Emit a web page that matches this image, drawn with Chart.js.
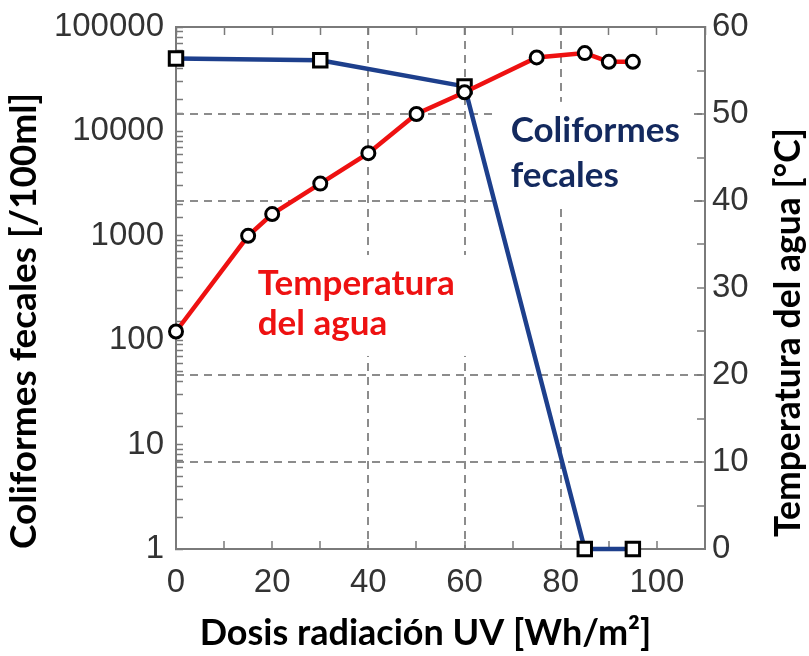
<!DOCTYPE html>
<html>
<head>
<meta charset="utf-8">
<script src="https://cdn.jsdelivr.net/npm/chart.js@4/dist/chart.umd.min.js"></script>
<style>
  html, body { margin: 0; padding: 0; background: #ffffff; }
  #wrap { width: 809px; height: 656px; }
</style>
</head>
<body>
<div id="wrap"><canvas id="c" width="809" height="656"></canvas></div>
<script>
// ---- data ----
const tempDose = [0, 15, 20, 30, 40, 50, 60, 75, 85, 90, 95];
const temperature = [25, 36, 38.5, 42, 45.5, 50, 52.5, 56.5, 57, 56, 56];
const coliDose = [0, 30, 60, 85, 95];
const coliformes = [50000, 48000, 27000, 1, 1];
const xTickLabels = [0, 20, 40, 60, 80, 100];
const yLeftTickLabels = [1, 10, 100, 1000, 10000, 100000];
const yRightTickLabels = [0, 10, 20, 30, 40, 50, 60];
const xGridValues = [40, 60, 80];
const yRightGridValues = [10, 20, 40, 50];

const xTitle = 'Dosis radiación UV [Wh/m²]';
const yLeftTitle = 'Coliformes fecales [/100ml]';
const yRightTitle = 'Temperatura del agua [°C]';
const noteTemp = ['Temperatura', 'del agua'];
const noteColi = ['Coliformes', 'fecales'];

// ---- styles ----
const RED = '#ee1111';
const BLUE = '#1d3f8c';
const NAVY = '#13295e';
const FRAME = '#7a7a7a';
const GRID = '#8c8c8c';
const TICKFONT = { family: '"Liberation Sans", Arial, sans-serif', size: 33 };
const TITLEFONT = 'Lato, "Open Sans", sans-serif';
const TRANSPARENT = 'rgba(0,0,0,0)';

function near(list, v) { return list.find(t => Math.abs(t - v) <= 1e-6 * Math.max(1, Math.abs(t))); }

const notes = [
  { lines: noteTemp, x: 17, y: 29.2, color: RED, gap: 40 },
  { lines: noteColi, x: 69.6, y: 46.8, color: NAVY, gap: 45 }
];

const notesPlugin = {
  id: 'notes',
  beforeDatasetsDraw(chart) {
    const ctx = chart.ctx;
    const sx = chart.scales.x, sy = chart.scales.y1;
    ctx.save();
    ctx.font = 'bold 35px ' + TITLEFONT;
    notes.forEach(n => {
      const px = sx.getPixelForValue(n.x);
      const py = sy.getPixelForValue(n.y);
      const w = Math.max(...n.lines.map(l => ctx.measureText(l).width));
      ctx.fillStyle = '#ffffff';
      ctx.fillRect(px - 14, py - 40, w + 26, n.gap * (n.lines.length - 1) + 61);
      ctx.fillStyle = n.color;
      ctx.textAlign = 'left';
      ctx.textBaseline = 'alphabetic';
      n.lines.forEach((l, i) => ctx.fillText(l, px, py + i * n.gap));
    });
    ctx.restore();
  }
};

const titlesPlugin = {
  id: 'titles',
  afterDraw(chart) {
    const ctx = chart.ctx;
    const a = chart.chartArea;
    ctx.save();
    ctx.fillStyle = '#000000';
    ctx.textBaseline = 'alphabetic';
    ctx.textAlign = 'center';
    ctx.font = 'bold 36px ' + TITLEFONT;
    ctx.fillText(xTitle, (a.left + a.right) / 2 - 15, chart.height - 11);
    ctx.font = 'bold 35.5px ' + TITLEFONT;
    ctx.translate(chart.width - 9, a.bottom - 12);
    ctx.rotate(-Math.PI / 2);
    ctx.textAlign = 'left';
    ctx.fillText(yRightTitle, 0, 0);
    ctx.restore();
  }
};

const bgPlugin = {
  id: 'bg',
  beforeDraw(chart) {
    const ctx = chart.ctx;
    ctx.save();
    ctx.fillStyle = '#ffffff';
    ctx.fillRect(0, 0, chart.width, chart.height);
    ctx.restore();
  }
};

function noPad(s) { s.paddingTop = 0; s.paddingBottom = 0; }

new Chart(document.getElementById('c'), {
  type: 'line',
  data: {
    datasets: [
      {
        label: 'Temperatura del agua',
        data: tempDose.map((x, i) => ({ x: x, y: temperature[i] })),
        xAxisID: 'x', yAxisID: 'y1',
        borderColor: RED, borderWidth: 4.5,
        pointStyle: 'circle', pointRadius: 6.5, pointBorderWidth: 3,
        pointBorderColor: '#000000', pointBackgroundColor: '#ffffff',
        tension: 0, clip: false
      },
      {
        label: 'Coliformes fecales',
        data: coliDose.map((x, i) => ({ x: x, y: coliformes[i] })),
        xAxisID: 'x', yAxisID: 'y',
        borderColor: BLUE, borderWidth: 4.5,
        pointStyle: 'rect', pointRadius: 9.5, pointBorderWidth: 3,
        pointBorderColor: '#000000', pointBackgroundColor: '#ffffff',
        tension: 0, clip: false
      }
    ]
  },
  options: {
    responsive: false,
    animation: false,
    layout: { padding: 0 },
    plugins: { legend: { display: false }, tooltip: { enabled: false } },
    scales: {
      x: {
        type: 'linear', position: 'bottom', min: 0, max: 110,
        afterFit: s => { s.height = 107; s.paddingLeft = 0; s.paddingRight = 0; },
        ticks: {
          stepSize: 10, autoSkip: false, maxRotation: 0, padding: 22, align: 'center',
          font: TICKFONT, color: '#333333',
          callback: v => (near(xTickLabels, v) !== undefined ? String(near(xTickLabels, v)) : '')
        },
        grid: {
          lineWidth: 2, tickLength: -8, tickColor: FRAME, tickWidth: 1.5,
          color: c => (c.tick && near(xGridValues, c.tick.value) !== undefined ? GRID : TRANSPARENT)
        },
        border: { display: true, color: FRAME, width: 2, dash: [8, 6] }
      },
      xTop: {
        type: 'linear', position: 'top', min: 0, max: 110,
        afterFit: s => { s.height = 27; s.paddingLeft = 0; s.paddingRight = 0; },
        ticks: { display: false, stepSize: 10 },
        grid: { drawOnChartArea: false, tickLength: -8, tickColor: FRAME, tickWidth: 1.5 },
        border: { display: true, color: FRAME, width: 2 }
      },
      y: {
        type: 'logarithmic', position: 'left', min: 1, max: 100000,
        afterFit: s => { s.width = 176; noPad(s); },
        ticks: {
          autoSkip: false, padding: 19, font: TICKFONT, color: '#333333',
          callback: v => (near(yLeftTickLabels, v) !== undefined ? String(near(yLeftTickLabels, v)) : '')
        },
        grid: { drawOnChartArea: false, tickLength: -7, tickColor: FRAME, tickWidth: 1.5 },
        border: { display: true, color: FRAME, width: 2 },
        title: {
          display: true, text: yLeftTitle, align: 'start', color: '#000000',
          font: { family: TITLEFONT, size: 37, weight: 'bold' },
          padding: { top: 2, bottom: 0 }
        }
      },
      y1: {
        type: 'linear', position: 'right', min: 0, max: 60,
        afterFit: s => { s.width = 104; noPad(s); },
        ticks: {
          stepSize: 5, autoSkip: false, padding: 15, font: TICKFONT, color: '#333333',
          callback: v => (near(yRightTickLabels, v) !== undefined ? String(near(yRightTickLabels, v)) : '')
        },
        grid: {
          lineWidth: 2, tickLength: -8, tickColor: FRAME, tickWidth: 1.5,
          color: c => (c.tick && near(yRightGridValues, c.tick.value) !== undefined ? GRID : TRANSPARENT)
        },
        border: { display: true, color: FRAME, width: 2, dash: [8, 6] }
      }
    }
  },
  plugins: [bgPlugin, notesPlugin, titlesPlugin]
});
</script>
</body>
</html>
